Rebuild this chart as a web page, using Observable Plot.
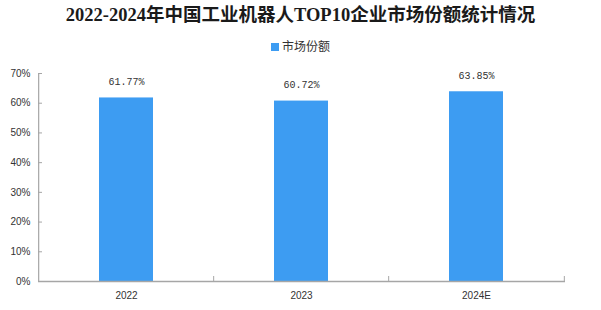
<!DOCTYPE html>
<html><head><meta charset="utf-8">
<script src="https://cdn.jsdelivr.net/npm/d3@7"></script>
<script src="https://cdn.jsdelivr.net/npm/@observablehq/plot@0.6"></script>
<style>
body{margin:0;background:#fff;width:601px;overflow:hidden;}
#title{height:30px;line-height:34px;text-align:center;font:bold 18.5px "Liberation Serif","Noto Sans CJK SC",serif;color:#1a1a1a;white-space:nowrap;}
#legend{height:27px;padding-top:7px;line-height:34px;text-align:center;font:12px "Noto Sans CJK SC",sans-serif;color:#333;box-sizing:content-box;}
#legend .sw{display:inline-block;width:8px;height:8px;background:#3d9cf2;margin-right:3px;vertical-align:middle;position:relative;top:-1px;}
#chart svg{display:block;}
</style></head><body>
<div id="title">2022-2024年中国工业机器人TOP10企业市场份额统计情况</div>
<div id="legend"><span class="sw"></span>市场份额</div>
<div id="chart"></div>
<script>
const years = ["2022", "2023", "2024E"];
const shares = [61.77, 60.72, 63.85];
const yTicks = [0, 10, 20, 30, 40, 50, 60, 70];

const data = years.map((y, i) => ({year: y, share: shares[i]}));

const W = 601, H = 246, mL = 38, mR = 36, mT = 9, mB = 29;
const plotW = W - mL - mR, plotH = H - mT - mB;
const pInner = 0.69, pOuter = 0.345;
const step = plotW / (years.length - pInner + 2 * pOuter);
const axisColor = "#a6a6a6";

const chart = Plot.plot({
  width: W, height: H,
  marginLeft: mL, marginRight: mR, marginTop: mT, marginBottom: mB,
  style: {background: "#fff", color: "#333"},
  x: {domain: years, paddingInner: pInner, paddingOuter: pOuter, label: null},
  y: {domain: [0, 70], label: null},
  marks: [
    Plot.barY(data, {x: "year", y: "share", fill: "#3d9cf2"}),
    Plot.ruleY([0], {stroke: axisColor, strokeWidth: 1.5}),
    Plot.ruleX([years[0]], {x: d => d, dx: -step / 2, stroke: axisColor, strokeWidth: 1.2}),
    Plot.tickY(yTicks, {y: d => d, stroke: axisColor, insetRight: plotW - 4}),
    Plot.tickX(years.slice(1), {x: d => d, dx: -step / 2, stroke: axisColor, insetTop: plotH - 5}),
    Plot.tickX([years[years.length - 1]], {x: d => d, dx: step / 2, stroke: axisColor, insetTop: plotH - 5}),
    Plot.axisY({ticks: yTicks, tickSize: 0, tickPadding: 8, tickFormat: d => d + "%", fontSize: 10, fontFamily: "Liberation Sans, sans-serif", fill: "#333", label: null}),
    Plot.axisX({tickSize: 0, tickPadding: 10, fontSize: 10, fontFamily: "Liberation Sans, sans-serif", fill: "#333", label: null}),
    Plot.text(data, {x: "year", y: "share", text: d => d.share.toFixed(2) + "%", dy: -16, fontSize: 10, fontFamily: "Liberation Mono, monospace", fill: "#333"})
  ]
});
document.getElementById("chart").appendChild(chart);
</script>
</body></html>
